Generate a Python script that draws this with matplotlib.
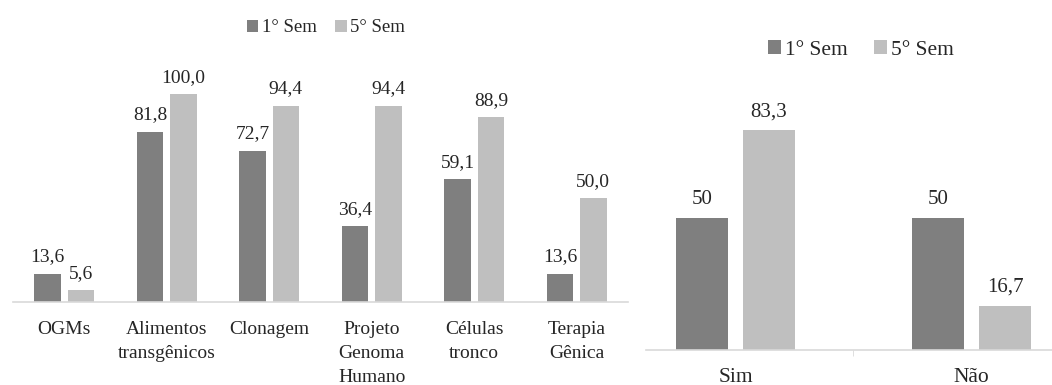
import matplotlib
matplotlib.use("Agg")
import matplotlib.pyplot as plt
import numpy as np

plt.rcParams['font.family'] = ['Liberation Serif', 'DejaVu Serif']

# Left chart data
categories_left = ["OGMs", "Alimentos\ntransgênicos", "Clonagem", "Projeto\nGenoma\nHumano",
                   "Células\ntronco", "Terapia\nGênica"]
sem1_left = [13.6, 81.8, 72.7, 36.4, 59.1, 13.6]
sem5_left = [5.6, 100.0, 94.4, 94.4, 88.9, 50.0]

# Right chart data
categories_right = ["Sim", "Não"]
sem1_right = [50, 50]
sem5_right = [83.3, 16.7]
labels_right_1 = ["50", "50"]
labels_right_5 = ["83,3", "16,7"]

series_names = ["1° Sem", "5° Sem"]

DARK = "#7f7f7f"
LIGHT = "#bfbfbf"
AXIS = "#d9d9d9"
TEXT = "#262626"

W, H = 1052, 385
fig = plt.figure(figsize=(W / 100, H / 100), dpi=100)

def fmt(v):
    return f"{v:.1f}".replace(".", ",")

# ---- Left axes ----
axL = fig.add_axes([13 / W, (H - 302) / H, 615 / W, 302 / H])
x = np.arange(len(categories_left))
bw = 0.26
off = 0.162
b1 = axL.bar(x - off, sem1_left, bw, color=DARK)
b2 = axL.bar(x + off, sem5_left, bw, color=LIGHT)
for xi, v in zip(x - off, sem1_left):
    axL.annotate(fmt(v), (xi, v), xytext=(0, 6), textcoords="offset points",
                 ha="center", va="bottom", fontsize=14, color=TEXT)
for xi, v in zip(x + off, sem5_left):
    axL.annotate(fmt(v), (xi, v), xytext=(0, 6), textcoords="offset points",
                 ha="center", va="bottom", fontsize=14, color=TEXT)
axL.set_xlim(-0.5, 5.5)
axL.set_ylim(0, 145.2)
axL.set_xticks(x)
axL.set_xticklabels(categories_left, fontsize=14, color=TEXT, linespacing=1.55)
axL.tick_params(axis="x", length=0, pad=13.5)
axL.set_yticks([])
for s in ["top", "right", "left"]:
    axL.spines[s].set_visible(False)
axL.spines["bottom"].set_color(AXIS)
axL.spines["bottom"].set_linewidth(1.2)
axL.patch.set_alpha(0)
fig.legend([b1, b2], series_names, loc="center", bbox_to_anchor=(326 / W, 1 - 28 / H),
           ncol=2, frameon=False, fontsize=13.5, handlelength=0.6, handleheight=0.6,
           handletextpad=0.2, columnspacing=1.0, labelcolor=TEXT)

# ---- Right axes ----
axR = fig.add_axes([646 / W, (H - 350) / H, 406 / W, 350 / H])
xr = np.arange(len(categories_right))
bwr = 0.22
offr = 0.142
r1 = axR.bar(xr - offr, sem1_right, bwr, color=DARK)
r2 = axR.bar(xr + offr, sem5_right, bwr, color=LIGHT)
for xi, v, t in zip(xr - offr, sem1_right, labels_right_1):
    axR.annotate(t, (xi, v), xytext=(0, 6.5), textcoords="offset points",
                 ha="center", va="bottom", fontsize=15, color=TEXT)
for xi, v, t in zip(xr + offr, sem5_right, labels_right_5):
    axR.annotate(t, (xi, v), xytext=(0, 6.5), textcoords="offset points",
                 ha="center", va="bottom", fontsize=15, color=TEXT)
axR.set_xlim(-0.379, 1.341)
axR.set_ylim(0, 132.6)
axR.set_xticks(xr)
axR.set_xticklabels(categories_right, fontsize=15.5, color=TEXT)
axR.tick_params(axis="x", length=0, pad=13)
axR.set_xticks([0.5], minor=True)
axR.tick_params(axis="x", which="minor", length=4, color=AXIS)
axR.set_yticks([])
for s in ["top", "right", "left"]:
    axR.spines[s].set_visible(False)
axR.spines["bottom"].set_color(AXIS)
axR.spines["bottom"].set_linewidth(1.2)
axR.patch.set_alpha(0)
fig.legend([r1, r2], series_names, loc="center", bbox_to_anchor=(861 / W, 1 - 50 / H),
           ncol=2, frameon=False, fontsize=15.5, handlelength=0.6, handleheight=0.6,
           handletextpad=0.2, columnspacing=1.2, labelcolor=TEXT)

fig.savefig("out.png", dpi=100)
